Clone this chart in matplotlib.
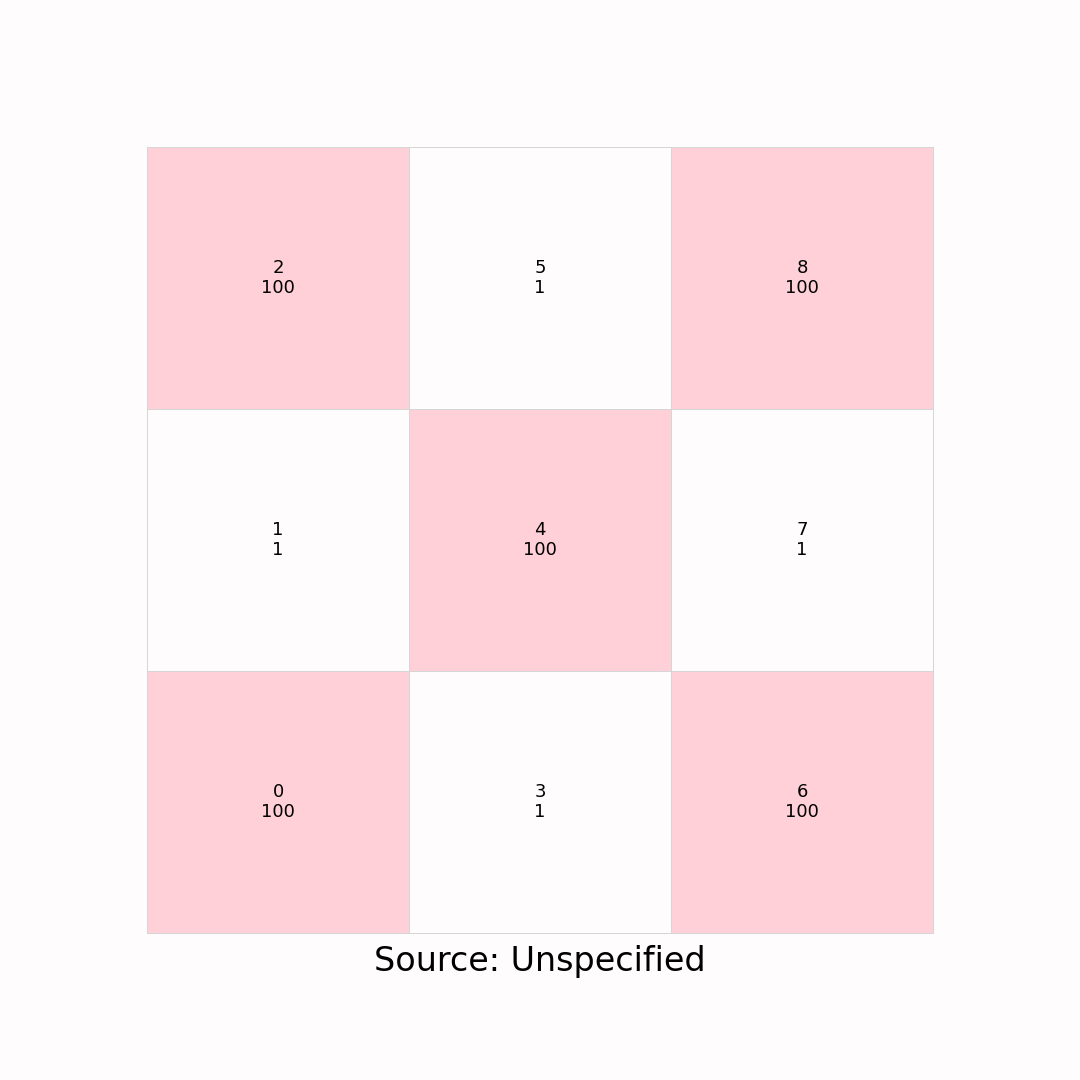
import matplotlib
matplotlib.use("Agg")
import matplotlib.pyplot as plt
import numpy as np
from matplotlib.colors import ListedColormap, BoundaryNorm

labels = ["0", "1", "2", "3", "4", "5", "6", "7", "8"]
values = [100, 1, 100, 1, 100, 1, 100, 1, 100]
ncols = 3
nrows = 3

bg = "#fffcfd"
pink = "#ffd0d8"

fig = plt.figure(figsize=(10.8, 10.8), dpi=100, facecolor=bg)
ax = fig.add_axes([147/1080, 147/1080, 786/1080, 786/1080])
ax.set_facecolor(bg)

grid = np.zeros((nrows, ncols))
for i, v in enumerate(values):
    c, r = i // nrows, i % nrows
    grid[r, c] = v

cmap = ListedColormap([bg, pink])
norm = BoundaryNorm([0, 50, 200], 2)
mesh = ax.pcolormesh(np.arange(ncols + 1), np.arange(nrows + 1), grid, cmap=cmap, norm=norm,
                     edgecolor="#d6d6d6", linewidth=0.7)
mesh.set_clip_on(False)

for i, (lab, v) in enumerate(zip(labels, values)):
    c, r = i // nrows, i % nrows
    ax.text(c + 0.5, r + 0.5, f"{lab}\n{v}", ha="center", va="center", fontsize=13, color="black")

ax.set_xlim(0, ncols)
ax.set_ylim(0, nrows)
for s in ax.spines.values():
    s.set_visible(False)
ax.set_xticks([])
ax.set_yticks([])

fig.text(0.5, 1 - 961/1080, "Source: Unspecified", ha="center", va="center", fontsize=24)

fig.savefig("out.png", dpi=100, facecolor=bg)
